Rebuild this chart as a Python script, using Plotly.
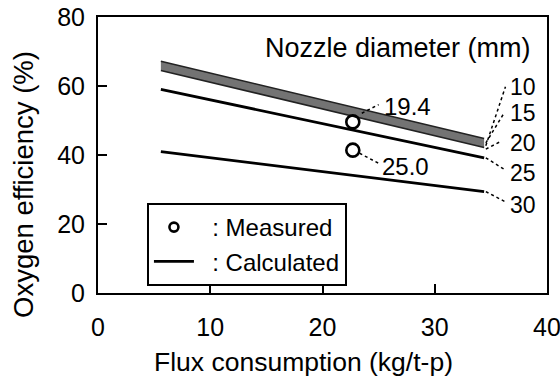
import plotly.graph_objects as go

# ---- data ----
flux_range = [5.6, 34.4]                      # calculated lines start / end (kg/t-p)
diameters = ["10", "15", "20", "25", "30"]   # nozzle diameter (mm)
eff_start = [67.2, 65.9, 64.5, 59.0, 41.0]   # oxygen efficiency at start (%)
eff_end = [44.8, 43.5, 42.2, 39.2, 29.4]     # oxygen efficiency at end (%)
label_y = [59.8, 52.3, 43.6, 34.8, 25.6]     # y positions of diameter labels

meas_flux = [22.7, 22.7]
meas_eff = [49.6, 41.4]
meas_labels = ["19.4", "25.0"]
meas_label_xy = [(27.6, 54.2), (27.35, 36.8)]
meas_leader = [((23.5, 52.1), (25.0, 54.6)), ((23.3, 40.5), (25.0, 37.6))]

FONT = "Liberation Sans, Arial, sans-serif"
fig = go.Figure()

# legend-only entries (first so they lead the legend)
fig.add_trace(go.Scatter(x=[None], y=[None], mode="markers", name="  : Measured",
                         marker=dict(symbol="circle-open", size=9, color="black",
                                     line=dict(width=2.6))))
fig.add_trace(go.Scatter(x=[None], y=[None], mode="lines", name="  : Calculated",
                         line=dict(color="black", width=2.8)))

# band between 10 mm and 20 mm lines
fig.add_trace(go.Scatter(x=flux_range, y=[eff_start[0], eff_end[0]], mode="lines",
                         line=dict(color="#222", width=1.5), showlegend=False, hoverinfo="skip"))
fig.add_trace(go.Scatter(x=flux_range, y=[eff_start[2], eff_end[2]], mode="lines",
                         line=dict(color="#222", width=1.5), fill="tonexty",
                         fillcolor="#737373", showlegend=False, hoverinfo="skip"))
# 25 and 30 mm lines
for i in (3, 4):
    fig.add_trace(go.Scatter(x=flux_range, y=[eff_start[i], eff_end[i]], mode="lines",
                             line=dict(color="black", width=2.8), showlegend=False,
                             hoverinfo="skip"))

# measured points
fig.add_trace(go.Scatter(x=meas_flux, y=meas_eff, mode="markers",
                         marker=dict(symbol="circle-open", size=13, color="black",
                                     line=dict(width=2.6)),
                         showlegend=False, hoverinfo="skip"))

shapes = []
annotations = []
# right-hand diameter labels with dotted leaders
lab_x = 36.4
for i, d in enumerate(diameters):
    sx = flux_range[1] + 0.15
    if i < 2:
        sy = eff_end[2] + 0.5 + 0.8 * i
        ey = label_y[i]
        ex = lab_x - 0.1 - 0.1 * i
    elif i == 2:
        sy = eff_end[2] - 0.5
        ex, ey = lab_x - 0.6, label_y[i] + 0.2
    else:
        sy = eff_end[i]
        ex, ey = lab_x - 0.1, label_y[i] + 0.8
    shapes.append(dict(type="line", xref="x", yref="y", x0=sx, y0=sy, x1=ex, y1=ey,
                       line=dict(color="black", width=1.5, dash="dot")))
    annotations.append(dict(x=lab_x + 0.15, y=label_y[i], xref="x", yref="y", text=d,
                            showarrow=False, xanchor="left", yanchor="middle",
                            font=dict(size=23, color="black", family=FONT)))

for (lx, ly), t, ((x0, y0), (x1, y1)) in zip(meas_label_xy, meas_labels, meas_leader):
    annotations.append(dict(x=lx, y=ly, xref="x", yref="y", text=t, showarrow=False,
                            xanchor="center", yanchor="middle",
                            font=dict(size=24, color="black", family=FONT)))
    shapes.append(dict(type="line", xref="x", yref="y", x0=x0, y0=y0, x1=x1, y1=y1,
                       line=dict(color="black", width=1.5, dash="dot")))

annotations.append(dict(x=0.969, y=0.888, xref="paper", yref="paper",
                        text="Nozzle diameter (mm)", showarrow=False, xanchor="right",
                        yanchor="middle", font=dict(size=27, color="black", family=FONT)))
# axis titles
annotations.append(dict(x=(303 - 98) / 449, y=(293 - 362) / 276, xref="paper", yref="paper",
                        text="Flux consumption (kg/t-p)", showarrow=False,
                        xanchor="center", yanchor="middle",
                        font=dict(size=26.5, color="black", family=FONT)))
annotations.append(dict(x=(23 - 98) / 449, y=(293 - 185) / 276, xref="paper", yref="paper",
                        text="Oxygen efficiency (%)", showarrow=False, textangle=-90,
                        xanchor="center", yanchor="middle",
                        font=dict(size=27.5, color="black", family=FONT)))

fig.update_layout(
    width=560, height=376,
    margin=dict(l=98, r=13, t=17, b=83),
    paper_bgcolor="white", plot_bgcolor="white",
    font=dict(family=FONT, color="black"),
    shapes=shapes, annotations=annotations,
    legend=dict(x=0.109, y=0.326, xanchor="left", yanchor="top",
                traceorder="normal",
                bordercolor="black", borderwidth=2, bgcolor="white",
                font=dict(size=24, color="black", family=FONT),
                tracegroupgap=0, itemwidth=40),
    xaxis=dict(range=[0, 40], tickvals=[0, 10, 20, 30, 40], ticks="inside", ticklen=9,
               tickwidth=2, tickcolor="black", showline=True, linewidth=2,
               linecolor="black", mirror=True, showgrid=False, zeroline=False,
               automargin=False, ticklabeloverflow="allow",
               tickfont=dict(size=25, family=FONT, color="black"), ticklabelstandoff=11),
    yaxis=dict(range=[0, 80], tickvals=[0, 20, 40, 60, 80], ticks="inside", ticklen=9,
               tickwidth=2, tickcolor="black", showline=True, linewidth=2,
               linecolor="black", mirror=True, showgrid=False, zeroline=False,
               automargin=False, ticklabeloverflow="allow",
               tickfont=dict(size=25, family=FONT, color="black"), ticklabelstandoff=6),
)

fig.write_html("out.html")
